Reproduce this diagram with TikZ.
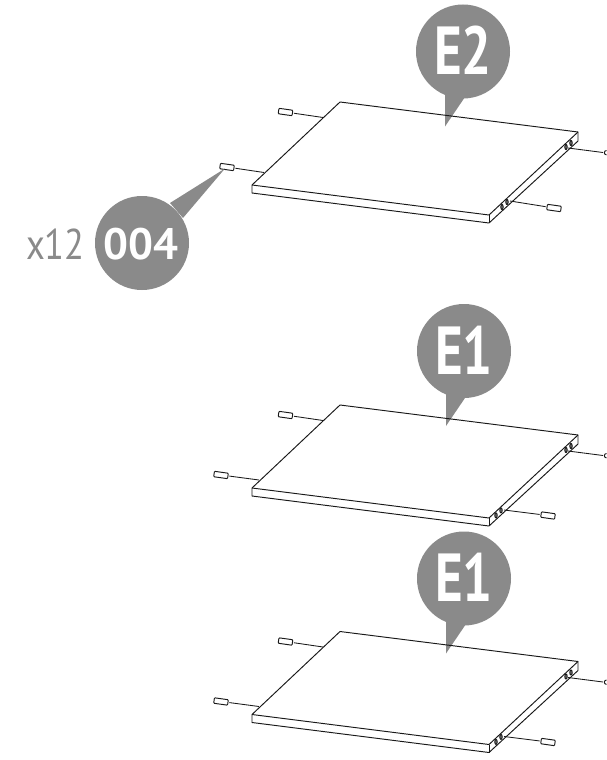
\documentclass[tikz,border=0pt]{standalone}
\usepackage{fontspec}
\setmainfont{PT Sans}
\definecolor{balloon}{HTML}{8A8A8A}
\tikzset{
  ink/.style={draw=black!90,line width=0.95pt,line join=round},
  thin ink/.style={draw=black!90,line width=0.85pt},
  dowel/.style={draw=black!90,line width=0.95pt,fill=white,rounded corners=0.8pt,rotate=-8,minimum width=14pt,minimum height=5.5pt,inner sep=0pt,outer sep=1.5pt},
  bubble/.style={fill=balloon,draw=none},
  tag/.style={text=white,font=\bfseries,inner sep=0pt},
}
% #1 name prefix, #2 vertical shift, #3 shift of front-left dowel, #4 shift of front-right dowel and holes
\newcommand{\shelfpanel}[4]{
\begin{scope}[yshift=-#2pt]
  \coordinate (#1bl) at (340,102);
  \coordinate (#1r) at (578,132);
  \coordinate (#1rb) at (578,141);
  \coordinate (#1fl) at (252,185);
  \coordinate (#1flb) at (252,193);
  \coordinate (#1f) at (489,215);
  \coordinate (#1fb) at (489,223);
  \draw[ink] (#1bl)--(#1r)--(#1rb)--(#1fb)--(#1flb)--(#1fl)--cycle;
  \draw[ink] (#1fl)--(#1f)--(#1r);
  \draw[ink] (#1f)--(#1fb);
  % left dowels
  \node[dowel] (#1d1) at (285.5,112) {};
  \coordinate (#1e1) at (323,117.5);
  \draw[thin ink] (#1d1)--(#1e1);
  \node[dowel] (#1d2) at ({227+#3},{167-#3*.83}) {};
  \coordinate (#1e2) at ({264+#3*.83},{172.5-#3*.75});
  \draw[thin ink] (#1d2)--(#1e2);
  % right dowels
  \coordinate (#1e3) at (568,148);
  \coordinate (#1d3) at (603,152.5);
  \draw[thin ink] (#1e3)--(#1d3);
  \draw[ink,fill=white] (606.5,150.5) arc[start angle=90,end angle=270,radius=2.2pt];
  \coordinate (#1e4) at ({510+#4},{201-#4});
  \node[dowel] (#1d4) at ({554+#4},{208-#4*.75}) {};
  \draw[thin ink] (#1e4)--(#1d4);
  % holes in the edge
  \foreach \hx/\hy in {566/147,571/143,{502+#4}/{207-#4*.9},{507+#4}/{202-#4*.9}}
    \draw[ink,fill=black!55] (\hx,\hy) ellipse[x radius=1.2pt,y radius=2.6pt];
\end{scope}}
\newcommand{\letterballoon}[4]{
  \fill[bubble] (#2,#3) circle[radius=47pt];
  \fill[bubble] ({#2-18},{#3+40})--({#2-18},{#3+75})--({#2+3},{#3+44})--cycle;
  \node[tag,font=\bfseries\fontsize{68pt}{68pt}\selectfont,xscale=.78] (#1) at (#2,{#3-1}) {#4};}
\begin{document}
\begin{tikzpicture}[x=1pt,y=-1pt]
\useasboundingbox (0,0) rectangle (607,760);
\fill[white] (0,0) rectangle (607,760);
\letterballoon{e2}{463}{51.5}{E2}
\letterballoon{e1a}{464}{351}{E1}
\letterballoon{e1b}{464}{578.5}{E1}
\shelfpanel{a}{0}{0}{0}
\shelfpanel{b}{303}{-6}{-6}
\shelfpanel{c}{529.5}{-6}{-6}
\fill[bubble] (142,243) circle[radius=47pt];
\fill[bubble] (170,203)--(225,168.5)--(183,218)--cycle;
\node[tag,font=\bfseries\fontsize{44pt}{44pt}\selectfont] (n004) at (141,244) {004};
\node[inner sep=0pt,text=balloon,font=\fontsize{43pt}{43pt}\selectfont,xscale=.85] (x12) at (55.5,244) {x12};
\end{tikzpicture}
\end{document}
